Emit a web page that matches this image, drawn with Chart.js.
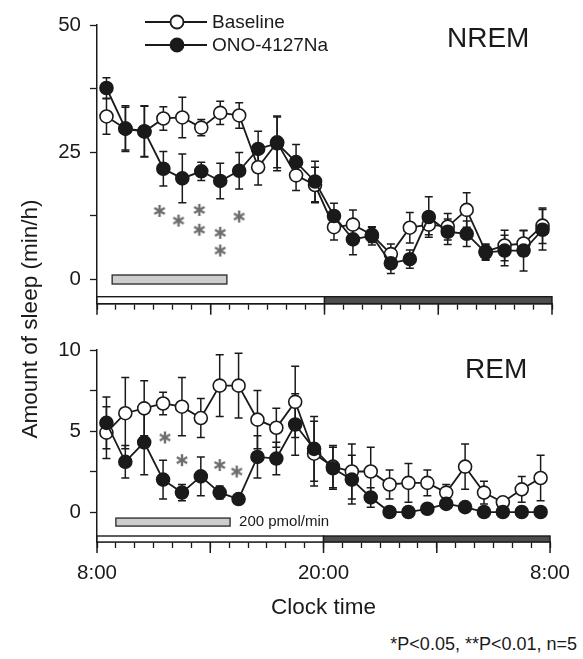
<!DOCTYPE html>
<html>
<head>
<meta charset="utf-8">
<script src="https://cdn.jsdelivr.net/npm/chart.js@4.4.1/dist/chart.umd.min.js"></script>
<style>
  html, body { margin: 0; padding: 0; background: #fff; }
  #wrap { position: relative; width: 583px; height: 659px; overflow: hidden;
          font-family: Arial, 'Liberation Sans', sans-serif; color: #1a1a1a; }
  canvas { position: absolute; left: 0; }
  #nrem { top: 0; }
  #rem { top: 325px; }
  #ytitle { position: absolute; left: -120px; top: 306px; width: 300px; height: 26px; line-height: 26px;
            text-align: center; font-size: 22.5px; transform: rotate(-90deg); }
  #note { position: absolute; right: 6px; top: 634px; font-size: 18px; }
</style>
</head>
<body>
<div id="wrap">
  <canvas id="nrem" width="583" height="325"></canvas>
  <canvas id="rem" width="583" height="305"></canvas>
  <div id="ytitle">Amount of sleep (min/h)</div>
  <div id="note">*P&lt;0.05, **P&lt;0.01, n=5</div>
</div>
<script>
const FONT = "Arial, 'Liberation Sans', sans-serif";
const INK = '#1a1a1a';

// hours after 8:00, one point per hour bin
const hours = [0.5, 1.5, 2.5, 3.5, 4.5, 5.5, 6.5, 7.5, 8.5, 9.5, 10.5, 11.5,
               12.5, 13.5, 14.5, 15.5, 16.5, 17.5, 18.5, 19.5, 20.5, 21.5, 22.5, 23.5];

const nremBaseline    = [32.0, 29.6, 29.0, 31.6, 31.8, 29.8, 32.7, 32.2, 22.0, 26.9, 20.4, 18.5,
                         10.2, 10.7, 8.7, 4.9, 10.1, 10.7, 10.3, 13.6, 5.4, 6.6, 7.0, 10.5];
const nremBaselineErr = [3.5, 4.2, 5.0, 2.3, 4.0, 1.6, 2.3, 2.5, 3.5, 5.0, 3.0, 3.5,
                         2.5, 2.9, 1.5, 2.0, 3.0, 2.0, 2.6, 3.4, 1.5, 3.0, 2.5, 3.5];
const nremOno         = [37.6, 29.6, 29.1, 21.7, 19.8, 21.2, 19.3, 21.3, 25.6, 26.7, 23.0, 19.2,
                         12.4, 7.8, 8.5, 3.1, 3.9, 12.2, 9.3, 8.9, 5.2, 5.6, 5.6, 9.7];
const nremOnoErr      = [2.0, 4.5, 5.0, 3.4, 4.8, 1.8, 3.5, 3.6, 3.5, 5.4, 3.5, 4.0,
                         2.5, 3.0, 1.8, 2.0, 1.8, 4.0, 2.5, 2.5, 1.5, 3.0, 4.0, 4.0];

const remBaseline     = [4.9, 6.1, 6.4, 6.7, 6.5, 5.8, 7.8, 7.8, 5.7, 5.2, 6.8, 3.6,
                         2.8, 2.5, 2.5, 1.7, 1.8, 1.8, 1.2, 2.8, 1.2, 0.6, 1.4, 2.1];
const remBaselineErr  = [1.6, 2.2, 1.7, 0.7, 1.8, 1.2, 1.9, 2.0, 1.8, 1.2, 2.2, 2.0,
                         1.3, 1.7, 1.5, 0.9, 1.2, 0.8, 0.5, 1.4, 0.7, 0.3, 0.8, 1.4];
const remOno          = [5.5, 3.1, 4.3, 2.0, 1.2, 2.2, 1.2, 0.8, 3.4, 3.3, 5.4, 3.9,
                         2.7, 2.0, 0.9, 0.0, 0.0, 0.2, 0.5, 0.3, 0.0, 0.0, 0.0, 0.0];
const remOnoErr       = [1.6, 1.0, 2.0, 1.2, 0.5, 1.2, 0.4, 0.2, 1.3, 1.0, 1.9, 2.0,
                         1.3, 1.5, 0.6, 0, 0, 0, 0, 0, 0, 0, 0, 0];

// significance marks (*)
const nremSigHours  = [3.3, 4.3, 5.4, 5.4, 6.5, 6.5, 7.5];
const nremSigValues = [13.4, 11.5, 13.6, 9.7, 9.1, 5.6, 12.3];
const remSigHours   = [3.6, 4.5, 6.5, 7.4];
const remSigValues  = [4.6, 3.2, 2.9, 2.5];

// infusion period and light/dark phases (hours after 8:00)
const nremInfusion = [0.8, 6.85];
const remInfusion  = [1.0, 7.05];
const lightPhase   = [0, 12];
const darkPhase    = [12, 24];

const xLabelHours = [0, 12, 24];
const xLabelTexts = ['8:00', '20:00', '8:00'];
const majorHours  = [0, 6, 12, 18, 24];
const nremYLabels = [0, 25, 50];
const remYLabels  = [0, 5, 10];

function pts(ys) { return ys.map((y, i) => ({ x: hours[i], y })); }

function makeStar() {
  const c = document.createElement('canvas');
  c.width = 14; c.height = 14;
  const g = c.getContext('2d');
  g.strokeStyle = '#6e6e6e';
  g.lineWidth = 2.4;
  for (const a of [90, 30, 150]) {
    const r = a * Math.PI / 180, dx = Math.cos(r) * 6, dy = Math.sin(r) * 6;
    g.beginPath(); g.moveTo(7 - dx, 7 - dy); g.lineTo(7 + dx, 7 + dy); g.stroke();
  }
  return c;
}
const star = makeStar();

const extras = {
  id: 'extras',
  beforeDatasetsDraw(chart, args, o) {
    const { ctx, chartArea } = chart;
    const x = chart.scales.x, y = chart.scales.y;
    ctx.save();
    // light / dark bar along the bottom of the plot
    const pb = chartArea.bottom, ph = o.phaseHeight;
    ctx.lineWidth = 1.4; ctx.strokeStyle = INK;
    const lx0 = x.getPixelForValue(lightPhase[0]), lx1 = x.getPixelForValue(lightPhase[1]);
    const dx0 = x.getPixelForValue(darkPhase[0]), dx1 = x.getPixelForValue(darkPhase[1]);
    ctx.fillStyle = '#fff';
    ctx.fillRect(lx0, pb - ph, lx1 - lx0, ph);
    ctx.strokeRect(lx0, pb - ph, lx1 - lx0, ph);
    ctx.fillStyle = '#4d4d4d';
    ctx.fillRect(dx0, pb - ph, dx1 - dx0, ph);
    ctx.strokeRect(dx0, pb - ph, dx1 - dx0, ph);

    // infusion bar
    const ix0 = x.getPixelForValue(o.infusion[0]), ix1 = x.getPixelForValue(o.infusion[1]);
    const iy = y.getPixelForValue(o.infusionLevel) - o.infusionHeight / 2;
    ctx.fillStyle = '#cdcdcd';
    ctx.fillRect(ix0, iy, ix1 - ix0, o.infusionHeight);
    ctx.strokeStyle = '#333';
    ctx.strokeRect(ix0, iy, ix1 - ix0, o.infusionHeight);
    if (o.doseLabel) {
      ctx.fillStyle = INK;
      ctx.font = `15px ${FONT}`;
      ctx.textBaseline = 'middle';
      ctx.fillText(o.doseLabel, ix1 + 9, iy + o.infusionHeight / 2);
    }

    // error bars
    ctx.strokeStyle = INK; ctx.lineWidth = 1.5;
    o.errors.forEach(([vals, errs]) => {
      vals.forEach((v, i) => {
        if (!errs[i]) return;
        const px = x.getPixelForValue(hours[i]);
        const t = y.getPixelForValue(v + errs[i]), b = y.getPixelForValue(v - errs[i]);
        ctx.beginPath();
        ctx.moveTo(px, t); ctx.lineTo(px, b);
        ctx.moveTo(px - 4, t); ctx.lineTo(px + 4, t);
        ctx.moveTo(px - 4, b); ctx.lineTo(px + 4, b);
        ctx.stroke();
      });
    });
    ctx.restore();
  },
  afterDraw(chart, args, o) {
    const { ctx, chartArea } = chart;
    const x = chart.scales.x;
    ctx.save();
    // longer ticks every 6 h
    ctx.strokeStyle = INK; ctx.lineWidth = 1.5;
    majorHours.forEach(h => {
      const px = x.getPixelForValue(h);
      ctx.beginPath(); ctx.moveTo(px, chartArea.bottom); ctx.lineTo(px, chartArea.bottom + 11); ctx.stroke();
    });
    // panel title
    ctx.fillStyle = INK;
    ctx.font = `28px ${FONT}`;
    ctx.textBaseline = 'middle';
    ctx.fillText(o.title, o.titleX, o.titleY);
    // legend
    if (o.legend) {
      const items = [[chart.data.datasets[1], 22], [chart.data.datasets[0], 45]];
      ctx.font = `19px ${FONT}`;
      items.forEach(([ds, ly]) => {
        ctx.strokeStyle = INK; ctx.lineWidth = 1.8;
        ctx.beginPath(); ctx.moveTo(145, ly); ctx.lineTo(207, ly); ctx.stroke();
        ctx.beginPath(); ctx.arc(177, ly, 6.5, 0, Math.PI * 2);
        ctx.fillStyle = ds.pointBackgroundColor; ctx.fill(); ctx.stroke();
        ctx.fillStyle = INK;
        ctx.fillText(ds.label, 212, ly + 1);
      });
    }
    ctx.restore();
  }
};

function panel(id, cfg) {
  const line = { borderColor: INK, pointBorderColor: INK, pointRadius: 6.5, pointBorderWidth: 1.6,
                 borderWidth: 1.8, tension: 0, clip: false };
  return new Chart(document.getElementById(id), {
    type: 'line',
    data: {
      datasets: [
        { ...line, label: 'ONO-4127Na', data: pts(cfg.ono), backgroundColor: INK, pointBackgroundColor: INK, order: 1 },
        { ...line, label: 'Baseline', data: pts(cfg.base), backgroundColor: '#fff', pointBackgroundColor: '#fff', order: 2 },
        { label: 'sig', data: cfg.sigHours.map((h, i) => ({ x: h, y: cfg.sigValues[i] })),
          showLine: false, pointStyle: star, pointRadius: 7, clip: false, order: 0 },
      ],
    },
    plugins: [extras],
    options: {
      responsive: false,
      animation: false,
      devicePixelRatio: 1,
      layout: { padding: { top: 25, right: 31, left: 0, bottom: 0 } },
      plugins: {
        legend: { display: false },
        tooltip: { enabled: false },
        extras: cfg.extras,
      },
      scales: {
        x: {
          type: 'linear', min: 0, max: 24,
          border: { color: INK, width: 1.5 },
          grid: { drawOnChartArea: false, tickLength: 6, tickColor: INK, tickWidth: 1.3 },
          ticks: {
            stepSize: 1, autoSkip: false, maxRotation: 0, padding: 13, color: INK,
            font: { family: FONT, size: 20.5 },
            callback: v => {
              if (!cfg.xLabels) return '';
              const i = xLabelHours.indexOf(v);
              return i >= 0 ? xLabelTexts[i] : '';
            },
          },
          title: cfg.xLabels
            ? { display: true, text: 'Clock time', color: INK, font: { family: FONT, size: 22.5 }, padding: { top: 0, bottom: 9 } }
            : { display: false },
          afterFit: s => { s.height = cfg.xHeight; },
        },
        y: {
          min: cfg.yMin, max: cfg.yMax,
          border: { color: INK, width: 1.5 },
          grid: { drawOnChartArea: false, tickLength: 7, tickColor: INK, tickWidth: 1.3 },
          ticks: {
            stepSize: cfg.yStep, padding: 9, color: INK,
            font: { family: FONT, size: 20.5 },
            callback: v => cfg.yLabels.includes(v) ? String(v) : '',
          },
          afterBuildTicks: s => { s.ticks = s.ticks.filter(t => t.value >= 0); },
          afterFit: s => { s.width = 97; },
        },
      },
    },
  });
}

panel('nrem', {
  base: nremBaseline, ono: nremOno, sigHours: nremSigHours, sigValues: nremSigValues,
  yMin: -4.86, yMax: 50, yStep: 12.5, yLabels: nremYLabels, xLabels: false, xHeight: 18,
  extras: {
    errors: [[nremBaseline, nremBaselineErr], [nremOno, nremOnoErr]],
    infusion: nremInfusion, infusionLevel: -0.1, infusionHeight: 9, phaseHeight: 7,
    title: 'NREM', titleX: 447, titleY: 39, legend: true,
  },
});

panel('rem', {
  base: remBaseline, ono: remOno, sigHours: remSigHours, sigValues: remSigValues,
  yMin: -1.85, yMax: 10, yStep: 2.5, yLabels: remYLabels, xLabels: true, xHeight: 88,
  extras: {
    errors: [[remBaseline, remBaselineErr], [remOno, remOnoErr]],
    infusion: remInfusion, infusionLevel: -0.62, infusionHeight: 8, phaseHeight: 6,
    doseLabel: '200 pmol/min', title: 'REM', titleX: 465, titleY: 45, legend: false,
  },
});
</script>
</body>
</html>
